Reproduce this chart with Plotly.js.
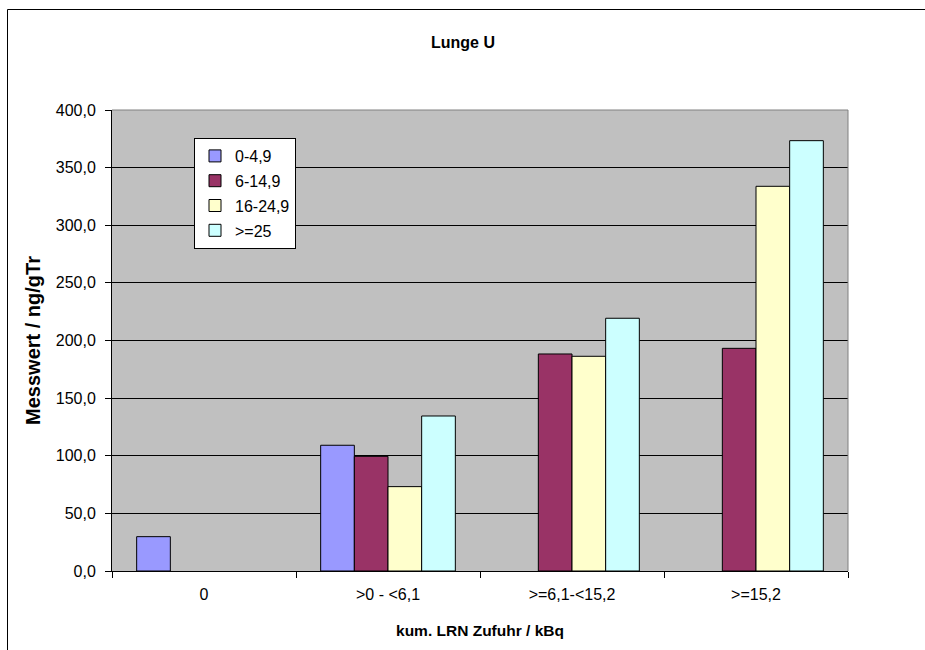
<!DOCTYPE html>
<html>
<head>
<meta charset="utf-8">
<script src="https://cdn.plot.ly/plotly-3.0.1.min.js"></script>
<style>
  html, body { margin: 0; padding: 0; background: #fff; }
  #chart { width: 925px; height: 650px; }
</style>
</head>
<body>
<div id="chart"></div>
<script>
// Cumulative LRN intake classes (x categories)
const categories = ['0', '>0 - <6,1', '>=6,1-<15,2', '>=15,2'];

// Series: age groups
const seriesNames = ['0-4,9', '6-14,9', '16-24,9', '>=25'];
const values_0_4_9   = [29.8, 109.1, null, null];
const values_6_14_9  = [null, 99.5, 188.3, 193.2];
const values_16_24_9 = [null, 73.2, 186.3, 333.8];
const values_ge25    = [null, 134.5, 219.3, 373.4];
const seriesValues = [values_0_4_9, values_6_14_9, values_16_24_9, values_ge25];
const seriesColors = ['#9999FF', '#993366', '#FFFFCC', '#CCFFFF'];

const yTickVals = [0, 50, 100, 150, 200, 250, 300, 350, 400];
const yTickText = ['0,0', '50,0', '100,0', '150,0', '200,0', '250,0', '300,0', '350,0', '400,0'];

const W = 925, H = 650;
const M = { l: 112, r: 77, t: 110, b: 79 };
const pw = W - M.l - M.r, ph = H - M.t - M.b;
const px = x => (x - M.l) / pw;
const py = y => (H - M.b - y) / ph;

const FONT = 'Liberation Sans, Arial, sans-serif';

const traces = seriesNames.map((name, i) => ({
  type: 'bar',
  name: name,
  x: categories,
  y: seriesValues[i],
  legendgroup: 'g' + i,
  marker: { color: seriesColors[i], line: { color: '#000', width: 1 } },
  hoverinfo: 'x+y+name'
}));

const layout = {
  width: W, height: H,
  margin: M,
  paper_bgcolor: '#ffffff',
  plot_bgcolor: '#C0C0C0',
  barmode: 'group',
  bargap: 0.268,
  bargroupgap: 0,
  font: { family: FONT, size: 16, color: '#000' },
  title: {
    text: '<b>Lunge U</b>',
    font: { family: FONT, size: 16, color: '#000' },
    x: 463 / W, xref: 'container', xanchor: 'center',
    y: 1 - 42 / H, yref: 'container', yanchor: 'middle'
  },
  xaxis: {
    type: 'category',
    tickson: 'boundaries',
    ticks: 'outside', ticklen: 6, tickcolor: '#000',
    showline: true, linecolor: '#000', linewidth: 1,
    showgrid: false,
    tickfont: { family: FONT, size: 16, color: '#000' },
    ticklabelstandoff: 9,
    title: { text: '<b>kum. LRN Zufuhr / kBq</b>', font: { family: FONT, size: 15.5, color: '#000' }, standoff: 22 },
    fixedrange: true
  },
  yaxis: {
    range: [0, 400],
    tickvals: yTickVals, ticktext: yTickText,
    ticks: 'outside', ticklen: 6, tickcolor: '#000',
    showline: true, linecolor: '#000', linewidth: 1,
    showgrid: true, gridcolor: '#000', gridwidth: 1,
    zeroline: false,
    tickfont: { family: FONT, size: 16, color: '#000' },
    ticklabelstandoff: 6,
    title: { text: '<b>Messwert / ng/gTr</b>', font: { family: FONT, size: 20, color: '#000' }, standoff: 9 },
    fixedrange: true
  },
  legend: {
    x: px(194), y: py(138), xanchor: 'left', yanchor: 'top',
    bgcolor: '#ffffff', bordercolor: '#000', borderwidth: 1,
    font: { family: FONT, size: 16, color: '#000' },
    traceorder: 'grouped', tracegroupgap: 1,
    itemwidth: 30
  },
  shapes: [
    // plot-area border (top and right)
    { type: 'line', xref: 'paper', yref: 'paper', x0: 0, x1: 1, y0: 1, y1: 1, line: { color: '#808080', width: 1 }, layer: 'above' },
    { type: 'line', xref: 'paper', yref: 'paper', x0: 1, x1: 1, y0: 0, y1: 1, line: { color: '#808080', width: 1 }, layer: 'above' },
    // chart frame
    { type: 'line', xref: 'paper', yref: 'paper', x0: px(7.5), x1: px(W + 5), y0: py(9.5), y1: py(9.5), line: { color: '#000', width: 1 }, layer: 'above' },
    { type: 'line', xref: 'paper', yref: 'paper', x0: px(7.5), x1: px(7.5), y0: py(9.5), y1: py(H + 5), line: { color: '#000', width: 1 }, layer: 'above' }
  ],
  showlegend: true
};

Plotly.newPlot('chart', traces, layout, { displayModeBar: false, staticPlot: true });
</script>
</body>
</html>
